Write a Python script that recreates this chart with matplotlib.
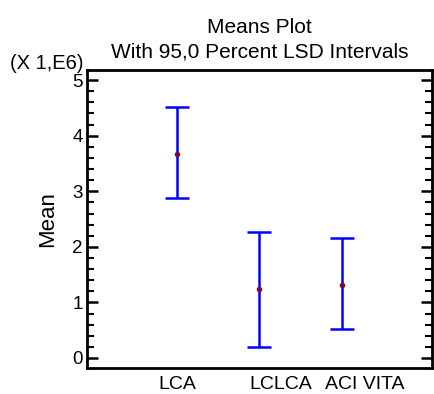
import matplotlib
matplotlib.use("Agg")
import matplotlib.pyplot as plt
import matplotlib.transforms as mtransforms
from matplotlib.ticker import MultipleLocator

plt.rcParams['font.family'] = ['Liberation Sans', 'DejaVu Sans']

categories = ["LCA", "LCLCA", "ACI VITA"]
means = [3.67, 1.25, 1.32]
lower = [2.88, 0.20, 0.52]
upper = [4.51, 2.27, 2.16]
yticks = [0, 1, 2, 3, 4, 5]

fig = plt.figure(figsize=(4.35, 3.94), dpi=100)
ax = fig.add_axes([0.2, 0.066, 0.793, 0.756])

x = list(range(1, len(categories) + 1))
yerr = [[m - l for m, l in zip(means, lower)], [u - m for m, u in zip(means, upper)]]
ax.errorbar(x, means, yerr=yerr, fmt='none', ecolor='#0000FF', elinewidth=1.8,
            capsize=8.5, capthick=1.8, zorder=2)
ax.plot(x, means, 'o', color='#7A0A3C', markersize=3, zorder=3)

ax.set_xlim(-0.1, 4.1)
ax.set_ylim(-0.18, 5.18)
ax.set_yticks(yticks)
ax.set_yticklabels([str(t) for t in yticks])
ax.yaxis.set_minor_locator(MultipleLocator(0.2))
ax.tick_params(axis='y', which='major', direction='in', length=8, width=1.8,
               right=True, left=True, labelsize=13.5, pad=3)
ax.tick_params(axis='y', which='minor', direction='in', length=5, width=1.5,
               right=True, left=True)
ax.set_xticks(x)
ax.set_xticklabels(categories)
ax.tick_params(axis='x', length=0, labelsize=14, pad=6)
offsets_pt = [0, 15, 17]
for lab, off in zip(ax.get_xticklabels(), offsets_pt):
    lab.set_transform(lab.get_transform() + mtransforms.ScaledTranslation(off / 72, 0, fig.dpi_scale_trans))

for s in ax.spines.values():
    s.set_linewidth(2)

ax.set_ylabel("Mean", fontsize=16, labelpad=10)
ax.set_title("Means Plot\nWith 95,0 Percent LSD Intervals", fontsize=15, pad=9, linespacing=1.4)
fig.text(0.023, 0.84, "(X 1,E6)", fontsize=14.5, ha='left', va='center')

fig.savefig("out.png", dpi=100)
